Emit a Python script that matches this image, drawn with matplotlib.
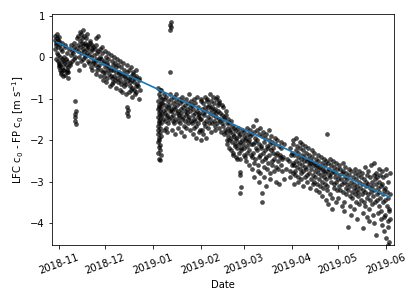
import pandas as pd
import matplotlib
matplotlib.use("Agg")
import matplotlib.pyplot as plt
import matplotlib.dates as mdates

# day offset from 2018-11-01 -> c0 differences
nov = {-3: [0.42, 0.5, 0.35, 0.2], -2: [0.55, 0.45, 0.3, 0.1, -0.05],
       -1: [0.48, 0.38, 0.25, -0.1, -0.2, 0.05], 0: [0.4, 0.3, -0.15, -0.3, -0.25, 0.0],
       1: [0.35, 0.2, -0.05, -0.2, -0.35, -0.4], 2: [0.15, -0.1, -0.25, -0.45, -0.3],
       3: [0.3, 0.0, -0.15, -0.3, -0.42], 4: [0.25, -0.05, -0.2, -0.35],
       5: [0.1, -0.1, -0.25, -0.3, -0.5], 6: [0.2, -0.15, -0.35], 7: [0.05, -0.2],
       8: [0.3, 0.15, -0.1], 9: [0.35, 0.1, -0.05],
       10: [-1.05, -1.3, -1.38, -1.45, -1.55, -1.62, 0.25, 0.0],
       11: [0.45, 0.2, -0.15], 12: [0.5, 0.3, 0.15, -0.3], 13: [0.6, 0.4, 0.25, 0.0],
       14: [0.55, 0.35, 0.1, -0.1], 15: [0.65, 0.45, 0.3, 0.2, -0.05],
       16: [0.5, 0.35, 0.15, 0.05, -0.2], 17: [0.45, 0.3, 0.2, 0.0],
       18: [0.55, 0.25, 0.1, -0.1], 19: [0.4, 0.3, 0.05, -0.15],
       20: [0.35, 0.15, 0.0, -0.25], 21: [0.3, 0.2, -0.1, -0.3], 22: [0.25, 0.05, -0.15],
       23: [0.45, 0.2, -0.05, -0.2, -0.4], 24: [0.3, 0.1, -0.1, -0.3],
       25: [0.5, 0.15, -0.05, -0.25], 26: [0.2, 0.0, -0.2, -0.45], 27: [0.25, -0.05, -0.3],
       28: [0.1, -0.15, -0.35, -0.55], 29: [0.15, -0.1, -0.25, -0.45]}

dec = {30: [0.0, -0.2, -0.35, -0.6], 31: [0.1, -0.15, -0.3, -0.5],
       32: [-0.05, -0.25, -0.4, -0.7], 33: [0.05, -0.3, -0.45],
       34: [-0.1, -0.2, -0.5, -0.65], 35: [0.0, -0.3, -0.45, -0.6],
       36: [-0.15, -0.35, -0.55], 37: [-0.05, -0.25, -0.5, -0.75],
       38: [-0.2, -0.4, -0.6], 39: [-0.1, -0.35, -0.55, -0.8],
       40: [-0.25, -0.45, -0.65], 41: [-0.15, -0.4, -0.6, -0.85],
       42: [-0.3, -0.5, -0.7], 43: [-0.2, -0.45, -0.65, -0.9],
       44: [-1.2, -1.28, -1.35, -1.43, -0.35, -0.55], 45: [-0.3, -0.5, -0.7, -0.85],
       46: [-0.25, -0.45, -0.6, -0.8], 47: [-0.35, -0.55, -0.75, -0.95],
       48: [-0.4, -0.6, -0.8], 49: [-0.3, -0.5, -0.7, -0.9],
       50: [-0.45, -0.65, -0.85], 51: [-0.5, -0.7, -1.0], 52: [-0.55, -0.8]}

jan = {64: [-0.75, -0.9, -1.05, -1.15, -1.25, -1.35, -1.45, -1.55, -1.65, -1.75,
            -1.85, -1.95, -2.05, -2.17, -2.3, -2.45],
       65: [-0.8, -0.95, -1.1, -1.2, -1.3, -1.4, -1.5, -1.6, -1.7, -1.8, -1.9,
            -2.0, -2.12, -2.24, -2.36, -2.48],
       66: [-0.8, -1.0, -1.2, -1.4, -1.6], 67: [-0.9, -1.1, -1.3, -1.5, -1.75],
       68: [-1.0, -1.15, -1.35, -1.55], 69: [-0.95, -1.25, -1.45, -1.7],
       70: [-1.05, -1.2, -1.4, -1.6, -1.8], 71: [-0.9, -1.15, -1.3, -1.5],
       72: [0.65, 0.72, 0.78, 0.84, -0.35, -1.0, -1.25, -1.45],
       73: [-1.1, -1.3, -1.55, -1.75], 74: [-0.95, -1.2, -1.4, -1.6],
       75: [-1.05, -1.25, -1.5, -1.85], 76: [-0.9, -1.15, -1.35, -1.55],
       77: [-1.0, -1.3, -1.45, -1.7], 78: [-1.1, -1.25, -1.4, -1.6],
       79: [-1.05, -1.35, -1.5, -1.8], 80: [-0.95, -1.2, -1.45, -1.65],
       81: [-1.15, -1.3, -1.55, -1.9], 82: [-1.0, -1.25, -1.4, -1.7],
       83: [-1.1, -1.35, -1.5, -1.6], 84: [-0.9, -1.2, -1.45, -1.75],
       85: [-1.05, -1.3, -1.55], 86: [-1.15, -1.4, -1.6, -1.85],
       87: [-1.0, -1.25, -1.5, -1.7], 88: [-1.1, -1.35, -1.55, -1.95],
       89: [-0.95, -1.3, -1.45, -1.65], 90: [-1.2, -1.4, -1.6, -1.8],
       91: [-1.05, -1.35, -1.5, -1.75]}

feb = {92: [-1.0, -1.25, -1.5, -1.75, -2.0], 93: [-1.1, -1.35, -1.6, -1.85],
       94: [-0.95, -1.2, -1.4, -1.65], 95: [-1.05, -1.3, -1.55, -1.95],
       96: [-1.0, -1.2, -1.45, -1.7], 97: [-0.9, -1.15, -1.35, -1.6],
       98: [-1.05, -1.25, -1.5, -1.8], 99: [-0.95, -1.2, -1.4, -1.6],
       100: [-1.1, -1.3, -1.55, -1.75], 101: [-1.0, -1.25, -1.45, -1.65],
       102: [-0.95, -1.15, -1.35, -1.6], 103: [-1.05, -1.3, -1.5, -1.7],
       104: [-1.1, -1.35, -1.55, -1.8], 105: [-1.15, -1.4, -1.6],
       106: [-1.2, -1.45, -1.65, -1.85], 107: [-1.3, -1.5, -1.75],
       108: [-1.4, -1.6, -1.8, -2.0], 109: [-1.5, -1.7, -1.9, -2.1],
       110: [-1.6, -1.8, -2.0, -2.2], 111: [-1.55, -1.75, -1.95, -2.25],
       112: [-1.65, -1.85, -2.05, -2.3], 113: [-1.7, -1.9, -2.1, -2.35],
       114: [-1.75, -1.95, -2.15, -2.4], 115: [-1.8, -2.0, -2.2, -2.45],
       116: [-1.7, -1.9, -2.1, -2.3],
       117: [-1.85, -2.05, -2.25, -2.45, -2.77, -2.84, -3.13, -3.28],
       118: [-1.75, -2.0, -2.2], 119: [-1.9, -2.1, -2.35]}

mar = {120: [-1.8, -2.0, -2.2, -2.4], 121: [-1.7, -1.95, -2.15, -2.5],
       122: [-1.85, -2.05, -2.3], 123: [-1.75, -2.0, -2.25, -2.6],
       124: [-1.9, -2.1, -2.35, -2.7], 125: [-1.65, -1.85, -2.1, -2.4],
       126: [-1.8, -2.05, -2.3, -2.55, -2.9], 127: [-1.52, -1.95, -2.2, -2.45],
       128: [-1.75, -2.0, -2.25, -2.75], 129: [-1.85, -2.1, -2.4, -2.6, -3.0],
       130: [-1.7, -2.15, -2.35, -2.8], 131: [-1.9, -2.2, -2.5, -3.28, -3.49],
       132: [-1.8, -2.05, -2.3, -2.65], 133: [-1.95, -2.25, -2.45, -2.9],
       134: [-1.85, -2.15, -2.4, -2.7, -3.1], 135: [-2.0, -2.2, -2.55],
       136: [-1.75, -2.1, -2.35, -2.8], 137: [-1.9, -2.25, -2.5, -2.95],
       138: [-2.05, -2.3, -2.6], 139: [-1.95, -2.2, -2.45, -2.75],
       140: [-2.1, -2.35, -2.65, -3.0], 141: [-2.0, -2.3, -2.5],
       142: [-2.15, -2.4, -2.7, -3.05], 143: [-2.05, -2.35, -2.6],
       144: [-2.2, -2.45, -2.75], 145: [-2.1, -2.4, -2.95],
       147: [-2.45, -2.7], 149: [-2.2, -2.5, -2.75], 150: [-2.35, -2.6, -2.9]}

apr = {151: [-2.0, -2.3, -2.55, -2.8], 152: [-2.1, -2.35, -2.6, -2.85, -3.05],
       153: [-1.95, -2.25, -2.5, -2.75], 154: [-2.15, -2.4, -2.65, -2.9],
       155: [-2.05, -2.3, -2.55, -3.0], 156: [-2.2, -2.45, -2.7, -2.95],
       157: [-2.1, -2.35, -2.6, -2.8], 158: [-2.25, -2.5, -2.75, -3.1],
       159: [-2.15, -2.4, -2.65, -2.9], 160: [-2.3, -2.5, -2.7, -3.0],
       161: [-2.2, -2.45, -2.6, -2.85], 162: [-2.35, -2.55, -2.8, -3.15],
       163: [-2.25, -2.5, -2.7, -2.95], 164: [-2.4, -2.6, -2.85, -3.05],
       165: [-2.3, -2.55, -2.75, -3.0], 166: [-2.45, -2.65, -2.9, -3.2],
       167: [-2.35, -2.6, -2.8, -3.05], 168: [-2.5, -2.7, -2.95, -3.25],
       169: [-2.4, -2.65, -2.85, -3.1], 170: [-2.55, -2.75, -3.0, -3.35],
       171: [-2.45, -2.7, -2.9, -3.15], 172: [-2.6, -2.8, -3.05, -3.45],
       173: [-1.85, -2.5, -2.75, -2.95, -3.2], 174: [-2.55, -2.85, -3.1, -3.55],
       175: [-2.45, -2.7, -2.9, -3.3], 176: [-2.6, -2.8, -3.0, -3.65],
       177: [-2.5, -2.75, -3.05, -3.4], 178: [-2.65, -2.9, -3.15],
       179: [-2.55, -2.8, -3.0, -3.5], 180: [-2.7, -2.95, -3.2]}

may = {181: [-2.6, -2.85, -3.1, -3.4], 182: [-2.7, -2.95, -3.2],
       183: [-2.55, -2.8, -3.05, -3.6], 184: [-2.75, -3.0, -3.25, -3.5],
       185: [-2.65, -2.9, -3.15, -3.7], 186: [-2.8, -3.05, -3.3],
       187: [-2.7, -2.95, -3.2, -4.1], 188: [-2.85, -3.1, -3.35, -3.6],
       189: [-2.75, -3.0, -3.25, -3.8], 190: [-2.9, -3.15, -3.4],
       191: [-2.8, -3.05, -3.3, -3.65], 192: [-2.7, -2.95, -3.2, -3.5],
       193: [-2.85, -3.1, -3.35, -3.9], 194: [-2.75, -3.0, -3.25, -3.55],
       195: [-2.9, -3.15, -3.45], 196: [-2.8, -3.05, -3.3, -4.12],
       197: [-2.95, -3.2, -3.5, -3.75], 198: [-2.65, -3.0, -3.25, -3.6],
       199: [-2.85, -3.1, -3.4, -3.85], 200: [-2.75, -3.05, -3.3, -3.65],
       201: [-2.9, -3.15, -3.45, -3.95], 202: [-2.6, -3.0, -3.25, -3.55],
       203: [-2.85, -3.1, -3.35, -3.8], 204: [-2.55, -2.95, -3.2, -3.5, -4.0],
       205: [-2.8, -3.05, -3.3, -4.29], 206: [-2.9, -3.15, -3.45, -3.75],
       207: [-2.7, -3.0, -3.25, -3.6], 208: [-2.85, -3.1, -3.4, -3.9],
       209: [-2.75, -3.05, -3.3, -3.7, -4.05], 210: [-2.9, -3.2, -3.5, -3.85, -4.2],
       211: [-2.7, -3.15, -3.45, -3.8], 212: [-2.85, -3.25, -3.6, -3.95, -4.35],
       213: [-3.0, -3.4, -3.7, -4.1, -4.45, -4.52], 214: [-2.8, -3.3, -3.65, -3.9]}

# hour of day each reading was taken; the rota shifts from day to day
hour_slots = [2, 14, 8, 20, 5, 17, 11, 23, 0, 12, 6, 18, 3, 15, 9, 21]

# linear fit end points
fit_dates = ["2018-10-30 16:00", "2019-06-03 00:00"]
fit_vals = [0.36, -3.37]

start = pd.Timestamp("2018-11-01")
dates, vals = [], []
for month in [nov, dec, jan, feb, mar, apr, may]:
    for day, vs in month.items():
        for i, v in enumerate(vs):
            h = hour_slots[(i + 5 * day) % len(hour_slots)]
            dates.append(start + pd.Timedelta(days=day, hours=h))
            vals.append(v)

fig = plt.figure(figsize=(416 / 72, 302 / 72), dpi=72)
ax = fig.add_axes([52 / 416, 57 / 302, 342 / 416, 231 / 302])

ax.scatter(dates, vals, s=22, c="k", alpha=0.7, linewidths=0)
ax.plot([pd.Timestamp(d) for d in fit_dates], fit_vals, color="C0", lw=1.7)

ax.set_xlim(pd.Timestamp("2018-10-27 12:00"), pd.Timestamp("2019-06-06 04:00"))
ax.set_ylim(-4.53, 1.04)
ax.set_yticks([-4, -3, -2, -1, 0, 1])
ax.xaxis.set_major_locator(mdates.MonthLocator())
ax.xaxis.set_major_formatter(mdates.DateFormatter("%Y-%m"))
plt.setp(ax.get_xticklabels(), rotation=20)

ax.set_xlabel("Date")
ax.set_ylabel("LFC c$_0$ - FP c$_0$ [m s$^{-1}$]")

fig.savefig("out.png", dpi=72)
